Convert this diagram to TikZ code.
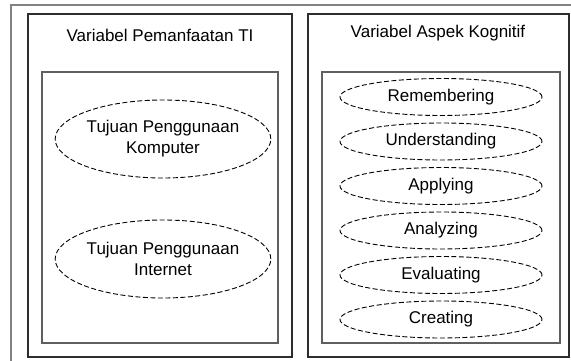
\documentclass[tikz,border=0pt]{standalone}
\usepackage{fontspec}
\setmainfont{Liberation Sans}
\usetikzlibrary{positioning, shapes.geometric}
\definecolor{edgegray}{RGB}{45, 45, 45}
\definecolor{innergray}{RGB}{95, 95, 95}
\definecolor{framegray}{RGB}{130, 130, 130}

\begin{document}
\begin{tikzpicture}[
  x=1pt, y=-1pt,
  font=\fontsize{17}{21}\selectfont,
  panel/.style={rectangle, draw=edgegray, line width=1.7pt, minimum height=343pt, inner sep=0pt},
  inner/.style={rectangle, draw=innergray, line width=1.3pt, minimum height=271pt, inner sep=0pt},
  varoval/.style={ellipse, draw=black, line width=0.9pt, dash pattern=on 5pt off 2.5pt, inner sep=0pt, align=center},
  bigoval/.style={varoval, minimum width=190pt, minimum height=78pt},
  smalloval/.style={varoval, minimum width=202pt, minimum height=37pt},
]
  \useasboundingbox (0,0) rectangle (571,361);

  % Outer frame (cut by the page edges)
  \draw[framegray, line width=1.3pt] (11,361) -- (11,5) -- (571,5);

  % Left panel
  \node[panel, minimum width=264pt] (pemanfaatan) at (160,185.5) {};
  \node (titleTI) at (160,35) {Variabel Pemanfaatan TI};
  \node[inner, minimum width=236pt] (innerTI) at (160,207.5) {};
  \node[bigoval] (komputer) at (163,139) {Tujuan Penggunaan\\Komputer};
  \node[bigoval] (internet) at (163,259) {Tujuan Penggunaan\\Internet};

  % Right panel
  \node[panel, minimum width=261pt] (kognitif) at (438.5,185.5) {};
  \node (titleKog) at (438,33) {Variabel Aspek Kognitif};
  \node[inner, minimum width=238pt] (innerKog) at (441,207.5) {};
  \node[smalloval] (remembering) at (441,97) {Remembering};
  \node[smalloval, below=6.6pt of remembering] (understanding) {Understanding};
  \node[smalloval, below=6.6pt of understanding] (applying) {Applying};
  \node[smalloval, below=6.6pt of applying] (analyzing) {Analyzing};
  \node[smalloval, below=6.6pt of analyzing] (evaluating) {Evaluating};
  \node[smalloval, below=6.6pt of evaluating] (creating) {Creating};

\end{tikzpicture}
\end{document}
